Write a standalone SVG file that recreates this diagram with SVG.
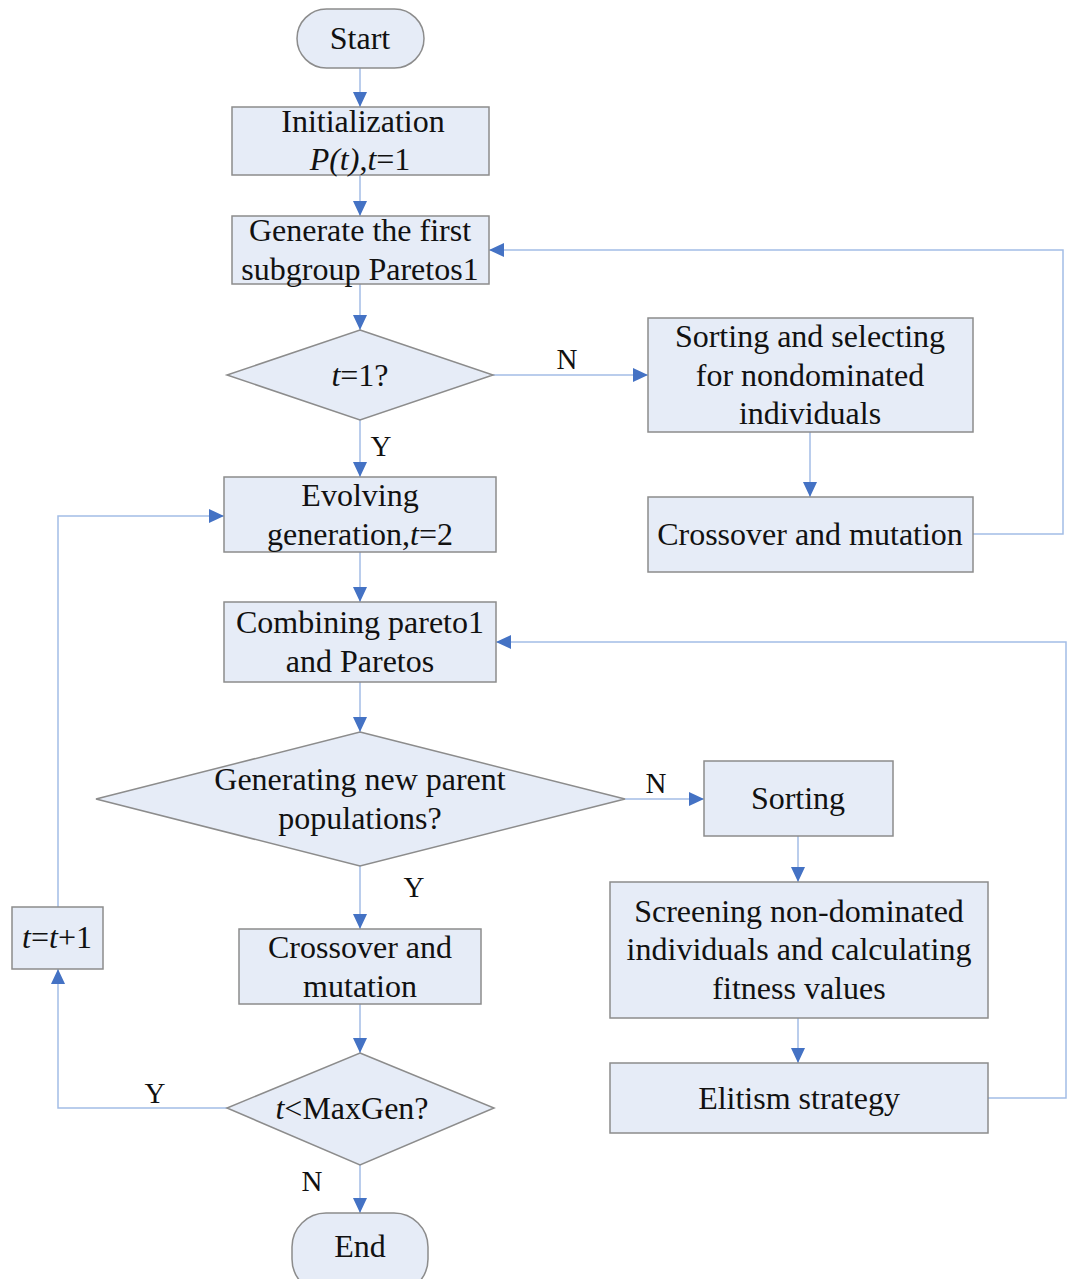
<svg xmlns="http://www.w3.org/2000/svg" width="1070" height="1279" viewBox="0 0 1070 1279">
<style>
.n{fill:#e6ecf7;stroke:#8c8c8c;stroke-width:1.5}
.t{font-family:"Liberation Serif","Times New Roman",serif;font-size:32px;fill:#111;text-anchor:middle}
.l{font-family:"Liberation Serif","Times New Roman",serif;font-size:29px;fill:#111;text-anchor:middle}
.i{font-style:italic}
.c{fill:none;stroke:#a3bde6;stroke-width:1.5}
</style>
<defs>
<marker id="a" markerUnits="userSpaceOnUse" markerWidth="16" markerHeight="16" viewBox="0 0 16 16" refX="15" refY="8" orient="auto">
<path d="M0,1 L15,8 L0,15 Z" fill="#4472c4"/>
</marker>
</defs>
<rect width="1070" height="1279" fill="#fff"/>
<g id="connectors">
<path class="c" d="M360,68 V107" marker-end="url(#a)"/>
<path class="c" d="M360,175 V216" marker-end="url(#a)"/>
<path class="c" d="M360,284 V330" marker-end="url(#a)"/>
<path class="c" d="M360,420 V477" marker-end="url(#a)"/>
<path class="c" d="M493,375 H648" marker-end="url(#a)"/>
<path class="c" d="M810,432 V497" marker-end="url(#a)"/>
<path class="c" d="M973,534 H1063 V250 H489" marker-end="url(#a)"/>
<path class="c" d="M360,552 V602" marker-end="url(#a)"/>
<path class="c" d="M360,682 V732" marker-end="url(#a)"/>
<path class="c" d="M625,799 H704" marker-end="url(#a)"/>
<path class="c" d="M798,836 V882" marker-end="url(#a)"/>
<path class="c" d="M798,1018 V1063" marker-end="url(#a)"/>
<path class="c" d="M988,1098 H1066 V642 H496" marker-end="url(#a)"/>
<path class="c" d="M360,866 V929" marker-end="url(#a)"/>
<path class="c" d="M360,1004 V1053" marker-end="url(#a)"/>
<path class="c" d="M360,1165 V1213" marker-end="url(#a)"/>
<path class="c" d="M227,1108 H58 V969" marker-end="url(#a)"/>
<path class="c" d="M58,907 V516 H224" marker-end="url(#a)"/>
<text class="l" x="567" y="369">N</text>
<text class="l" x="381" y="456">Y</text>
<text class="l" x="656" y="793">N</text>
<text class="l" x="414" y="897">Y</text>
<text class="l" x="155" y="1103">Y</text>
<text class="l" x="312" y="1191">N</text>
</g>
<g id="start"><rect class="n" x="297" y="9" width="127" height="59" rx="29.5"/><text class="t" x="360" y="49">Start</text></g>
<g id="init"><rect class="n" x="232" y="107" width="257" height="68"/><text class="t" x="363" y="132">Initialization</text><text class="t" x="360" y="170"><tspan class="i">P(t)</tspan>,<tspan class="i">t</tspan>=1</text></g>
<g id="generate"><rect class="n" x="232" y="216" width="257" height="68"/><text class="t" x="360" y="241">Generate the first</text><text class="t" x="360" y="280">subgroup Paretos1</text></g>
<g id="dec1"><polygon class="n" points="360,330 493,375 360,420 227,375"/><text class="t" x="360" y="386"><tspan class="i">t</tspan>=1?</text></g>
<g id="sortsel"><rect class="n" x="648" y="318" width="325" height="114"/><text class="t" x="810" y="347">Sorting and selecting</text><text class="t" x="810" y="386">for nondominated</text><text class="t" x="810" y="424">individuals</text></g>
<g id="cross1"><rect class="n" x="648" y="497" width="325" height="75"/><text class="t" x="810" y="545">Crossover and mutation</text></g>
<g id="evolve"><rect class="n" x="224" y="477" width="272" height="75"/><text class="t" x="360" y="506">Evolving</text><text class="t" x="360" y="545">generation,<tspan class="i">t</tspan>=2</text></g>
<g id="combine"><rect class="n" x="224" y="602" width="272" height="80"/><text class="t" x="360" y="633">Combining pareto1</text><text class="t" x="360" y="672">and Paretos</text></g>
<g id="dec2"><polygon class="n" points="360,732 625,799 360,866 96,799"/><text class="t" x="360" y="790">Generating new parent</text><text class="t" x="360" y="829">populations?</text></g>
<g id="sorting"><rect class="n" x="704" y="761" width="189" height="75"/><text class="t" x="798" y="809">Sorting</text></g>
<g id="screen"><rect class="n" x="610" y="882" width="378" height="136"/><text class="t" x="799" y="922">Screening non-dominated</text><text class="t" x="799" y="960">individuals and calculating</text><text class="t" x="799" y="999">fitness values</text></g>
<g id="elitism"><rect class="n" x="610" y="1063" width="378" height="70"/><text class="t" x="799" y="1109">Elitism strategy</text></g>
<g id="cross2"><rect class="n" x="239" y="929" width="242" height="75"/><text class="t" x="360" y="958">Crossover and</text><text class="t" x="360" y="997">mutation</text></g>
<g id="dec3"><polygon class="n" points="360,1053 494,1108 360,1165 227,1108"/><text class="t" x="352" y="1119"><tspan class="i">t</tspan>&lt;MaxGen?</text></g>
<g id="end"><rect class="n" x="292" y="1213" width="136" height="80" rx="34"/><text class="t" x="360" y="1257">End</text></g>
<g id="inc"><rect class="n" x="12" y="907" width="91" height="62"/><text class="t" x="57" y="948"><tspan class="i">t</tspan>=<tspan class="i">t</tspan>+1</text></g>
</svg>
